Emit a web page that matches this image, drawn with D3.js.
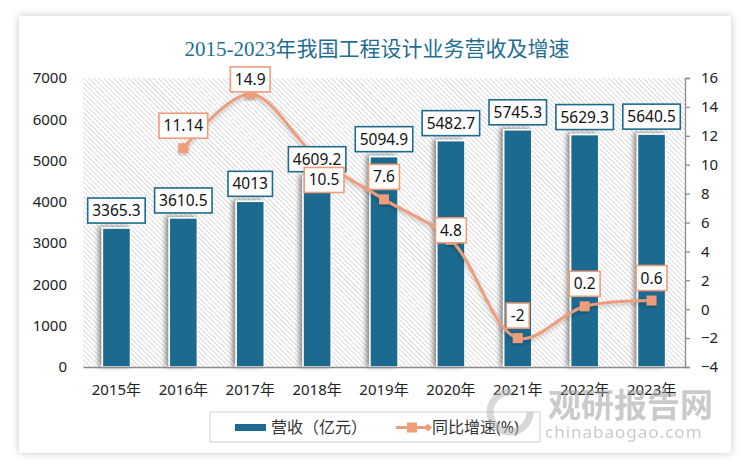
<!DOCTYPE html>
<html>
<head>
<meta charset="utf-8">
<script src="https://cdn.jsdelivr.net/npm/d3@7"></script>
<style>
  body { margin: 0; background: #fff; }
  svg text { font-family: "Noto Sans", "Noto Sans CJK SC", sans-serif; }
</style>
</head>
<body>
<div id="chart-area"></div>
<script>
// data
var years = ["2015年", "2016年", "2017年", "2018年", "2019年", "2020年", "2021年", "2022年", "2023年"];
var revenue = [3365.3, 3610.5, 4013, 4609.2, 5094.9, 5482.7, 5745.3, 5629.3, 5640.5];
var growth = [null, 11.14, 14.9, 10.5, 7.6, 4.8, -2, 0.2, 0.6];
var leftTicks = [0, 1000, 2000, 3000, 4000, 5000, 6000, 7000];
var rightTicks = [-4, -2, 0, 2, 4, 6, 8, 10, 12, 14, 16];

var W = 750, H = 471;
var margin = { left: 83, right: 65, top: 78, bottom: 104 };
var width = W - margin.left - margin.right;
var height = H - margin.top - margin.bottom;

var blue = "#1d6b8f";
var orange = "#ee9d7b";

var svg = d3.select("#chart-area").append("svg")
    .attr("width", W)
    .attr("height", H);

var defs = svg.append("defs");

// card shadow
var f1 = defs.append("filter").attr("id", "cardShadow")
    .attr("x", "-5%").attr("y", "-5%").attr("width", "110%").attr("height", "110%");
f1.append("feDropShadow").attr("dx", 0).attr("dy", 0).attr("stdDeviation", 4)
    .attr("flood-color", "#000").attr("flood-opacity", 0.22);

// bar shadow (to the left)
var f2 = defs.append("filter").attr("id", "barShadow")
    .attr("x", "-60%").attr("y", "-10%").attr("width", "160%").attr("height", "120%");
f2.append("feDropShadow").attr("dx", -3).attr("dy", -1).attr("stdDeviation", 2.5)
    .attr("flood-color", "#000").attr("flood-opacity", 0.45);

// soft line shadow
var f3 = defs.append("filter").attr("id", "lineShadow")
    .attr("x", "-10%").attr("y", "-20%").attr("width", "120%").attr("height", "140%");
f3.append("feDropShadow").attr("dx", 0).attr("dy", 2).attr("stdDeviation", 2)
    .attr("flood-color", "#000").attr("flood-opacity", 0.25);

// hatch pattern for the plot area
var pat = defs.append("pattern").attr("id", "hatch")
    .attr("patternUnits", "userSpaceOnUse")
    .attr("width", 3.5).attr("height", 3.5)
    .attr("patternTransform", "rotate(-45)");
pat.append("rect").attr("width", 3.5).attr("height", 3.5).attr("fill", "#fff");
pat.append("line").attr("x1", 0).attr("y1", 0).attr("x2", 0).attr("y2", 3.5)
    .attr("stroke", "#cfcfcf").attr("stroke-width", 1.5);

// card
svg.append("rect")
    .attr("x", 19).attr("y", 16).attr("width", 712).attr("height", 437)
    .attr("fill", "#fff")
    .attr("filter", "url(#cardShadow)");

// title
svg.append("text")
    .attr("x", 377).attr("y", 56)
    .attr("text-anchor", "middle")
    .attr("font-size", "21px")
    .attr("fill", "#1f6e92")
    .style("font-family", "'Liberation Serif', 'Noto Sans CJK SC', serif")
    .text("2015-2023年我国工程设计业务营收及增速");

var g = svg.append("g")
    .attr("transform", "translate(" + margin.left + ", " + margin.top + ")");

var x = d3.scaleBand()
    .domain(years)
    .range([0, width])
    .paddingInner(0.58)
    .paddingOuter(0.29);

var y = d3.scaleLinear().domain([0, 7000]).range([height, 0]);
var y2 = d3.scaleLinear().domain([-4, 16]).range([height, 0]);

// plot background
g.append("rect")
    .attr("width", width).attr("height", height)
    .attr("fill", "url(#hatch)");

// left axis (labels only)
var yAxisGroup = g.append("g")
    .call(d3.axisLeft(y).tickValues(leftTicks).tickFormat(d3.format("d")).tickSize(0).tickPadding(16));
yAxisGroup.select(".domain").remove();
yAxisGroup.selectAll("text")
    .attr("font-size", "15px")
    .attr("fill", "#222")
    .style("font-family", "'Noto Sans', sans-serif");

// right axis
var y2AxisGroup = g.append("g")
    .attr("transform", "translate(" + width + ", 0)")
    .call(d3.axisRight(y2).tickValues(rightTicks).tickSize(5).tickPadding(11).tickSizeOuter(5));
y2AxisGroup.select(".domain").attr("stroke", "#8c8c8c").attr("stroke-width", 1.3);
y2AxisGroup.selectAll(".tick line").attr("stroke", "#8c8c8c").attr("stroke-width", 1.3);
y2AxisGroup.selectAll("text")
    .attr("font-size", "15px")
    .attr("fill", "#222")
    .style("font-family", "'Noto Sans', sans-serif");

// bars
g.selectAll("rect.bar")
    .data(revenue)
    .enter()
    .append("rect")
    .attr("class", "bar")
    .attr("x", (d, i) => x(years[i]))
    .attr("width", x.bandwidth())
    .attr("y", d => y(d))
    .attr("height", d => height - y(d))
    .attr("fill", blue)
    .attr("stroke", "#fff")
    .attr("stroke-width", 1.5)
    .attr("filter", "url(#barShadow)");

// bottom axis
var xAxisGroup = g.append("g")
    .attr("transform", "translate(0, " + height + ")")
    .call(d3.axisBottom(x).tickSize(0).tickPadding(17));
xAxisGroup.select(".domain").attr("stroke", "#8c8c8c").attr("stroke-width", 1.5);
xAxisGroup.selectAll("text")
    .attr("font-size", "15px")
    .attr("fill", "#222");

// growth line
var pts = growth.map((v, i) => ({ year: years[i], v: v })).filter(d => d.v !== null);
var cx = d => x(d.year) + x.bandwidth() / 2;

var line = d3.line()
    .x(cx)
    .y(d => y2(d.v))
    .curve(d3.curveCatmullRom.alpha(0.5));

g.append("path")
    .datum(pts)
    .attr("d", line)
    .attr("fill", "none")
    .attr("stroke", orange)
    .attr("stroke-width", 3)
    .attr("filter", "url(#lineShadow)");

g.selectAll("rect.marker")
    .data(pts)
    .enter()
    .append("rect")
    .attr("class", "marker")
    .attr("x", d => cx(d) - 5)
    .attr("y", d => y2(d.v) - 5)
    .attr("width", 10).attr("height", 10)
    .attr("fill", orange)
    .attr("filter", "url(#lineShadow)");

// label boxes
function labelBox(sel, text, cxv, bottom, stroke) {
    var t = sel.append("text")
        .attr("x", cxv)
        .attr("y", bottom - 7)
        .attr("text-anchor", "middle")
        .attr("font-size", "15.5px")
        .attr("fill", "#111")
        .text(text);
    var w = t.node().getComputedTextLength() + 9;
    sel.insert("rect", "text")
        .attr("x", cxv - w / 2)
        .attr("y", bottom - 25)
        .attr("width", w).attr("height", 25)
        .attr("fill", "#fff")
        .attr("stroke", stroke)
        .attr("stroke-width", 1.6);
}

// bar value labels
revenue.forEach((d, i) => {
    var lg = g.append("g");
    labelBox(lg, String(d), x(years[i]) + x.bandwidth() / 2, y(d) - 5, blue);
});

// growth value labels: box placement relative to the point (style only)
var growthLabelShift = { "2017年": [0, 8], "2018年": [7, 45], "2020年": [0, 13] };
pts.forEach(d => {
    var lg = g.append("g");
    var s = growthLabelShift[d.year] || [0, 0];
    labelBox(lg, String(d.v), cx(d) + s[0], y2(d.v) - 10 + s[1], orange);
});

// legend
var leg = svg.append("g");
leg.append("rect")
    .attr("x", 210).attr("y", 412).attr("width", 330).attr("height", 30)
    .attr("fill", "#fff").attr("stroke", "#d0d0d0").attr("stroke-width", 1);
leg.append("rect")
    .attr("x", 235).attr("y", 424).attr("width", 31).attr("height", 7)
    .attr("fill", blue);
leg.append("text")
    .attr("x", 271).attr("y", 433)
    .attr("font-size", "16px").attr("fill", "#333")
    .text("营收（亿元）");
leg.append("line")
    .attr("x1", 396).attr("x2", 430).attr("y1", 427.5).attr("y2", 427.5)
    .attr("stroke", orange).attr("stroke-width", 3);
leg.append("rect")
    .attr("x", 407).attr("y", 422.5).attr("width", 10).attr("height", 10)
    .attr("fill", orange);
leg.append("path")
    .attr("d", "M428,423.5 L432,427.5 L428,431.5 L424,427.5 Z")
    .attr("fill", orange);
leg.append("text")
    .attr("x", 432).attr("y", 433)
    .attr("font-size", "16px").attr("fill", "#333")
    .text("同比增速(%)");

// watermark
var wm = svg.append("g").attr("opacity", 0.55);
wm.append("circle")
    .attr("cx", 510).attr("cy", 412).attr("r", 20)
    .attr("fill", "none").attr("stroke", "#b8b8b8").attr("stroke-width", 7)
    .attr("stroke-dasharray", "95 30");
wm.append("text")
    .attr("x", 548).attr("y", 417)
    .attr("font-size", "33px").attr("font-weight", "bold").attr("fill", "#a0a0a0")
    .style("font-family", "'Noto Sans CJK SC', sans-serif")
    .text("观研报告网");
wm.append("text")
    .attr("x", 545).attr("y", 438)
    .attr("font-size", "17px").attr("fill", "#a0a0a0")
    .attr("letter-spacing", "1px")
    .text("chinabaogao.com");
</script>
</body>
</html>
